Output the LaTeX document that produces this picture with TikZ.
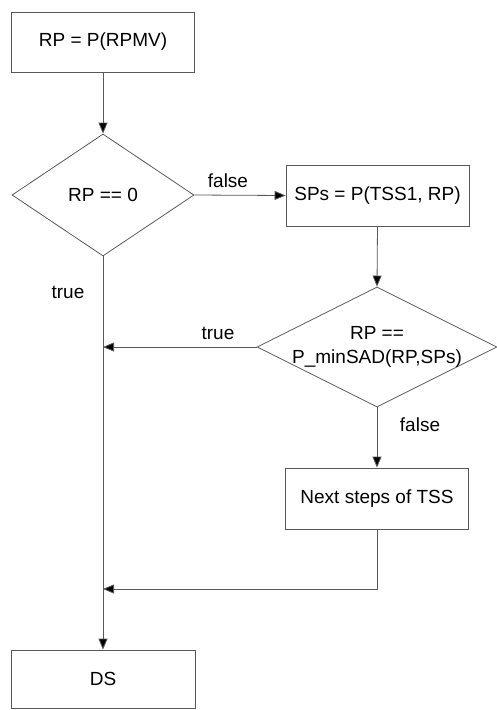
\documentclass[tikz,border=0pt]{standalone}
\usepackage{fontspec}
\setmainfont{Liberation Sans}
\usetikzlibrary{shapes.geometric,arrows.meta}
\begin{document}
\begin{tikzpicture}[x=1pt,y=-1pt,font=\fontsize{19}{24}\selectfont]
\tikzset{
 box/.style={draw=black!65, line width=0.8pt, rectangle, minimum width=183pt, minimum height=60pt, inner sep=0pt},
 dec/.style={draw=black!65, line width=0.8pt, diamond, inner sep=0pt},
 conn/.style={draw=black!65, line width=0.8pt},
 arr/.style={conn, -{Triangle[length=11pt,width=9pt,fill=black]}},
 lbl/.style={inner sep=0pt, align=center}
}
\useasboundingbox (0,0) rectangle (497,710);
\node[box] (rp) at (103,42) {RP = P(RPMV)};
\node[dec, minimum width=182pt, minimum height=122pt] (d1) at (103,195) {};
\node[lbl] (t1) at (d1.center) {RP == 0};
\node[box, minimum height=61pt] (sps) at (377.5,195.5) {SPs = P(TSS1, RP)};
\node[dec, minimum width=240pt, minimum height=120pt] (d2) at (377,347) {};
\node[lbl] (t2) at (d2.center) {RP ==\\P\_minSAD(RP,SPs)};
\node[box, minimum height=61pt] (next) at (377,498.5) {Next steps of TSS};
\node[box, minimum width=184pt, minimum height=58pt] (ds) at (103,679) {DS};
\coordinate (j1) at (103,347);
\coordinate (j2) at (103,589);
\coordinate (c1) at (377,589);
\draw[arr] (rp.south) -- (d1.north);
\draw[arr] (d1.east) -- (sps.west);
\draw[arr] (sps.south) -- (d2.north);
\draw[arr] (d2.south) -- (next.north);
\draw[arr] (d2.west) -- (j1);
\draw[arr] (d1.south) -- (ds.north);
\draw[arr] (next.south) -- (c1) -- (j2);
\node[lbl] (lf1) at (228,181) {false};
\node[lbl] (lt1) at (68,292) {true};
\node[lbl] (lt2) at (218,333) {true};
\node[lbl] (lf2) at (420,425) {false};
\end{tikzpicture}
\end{document}
